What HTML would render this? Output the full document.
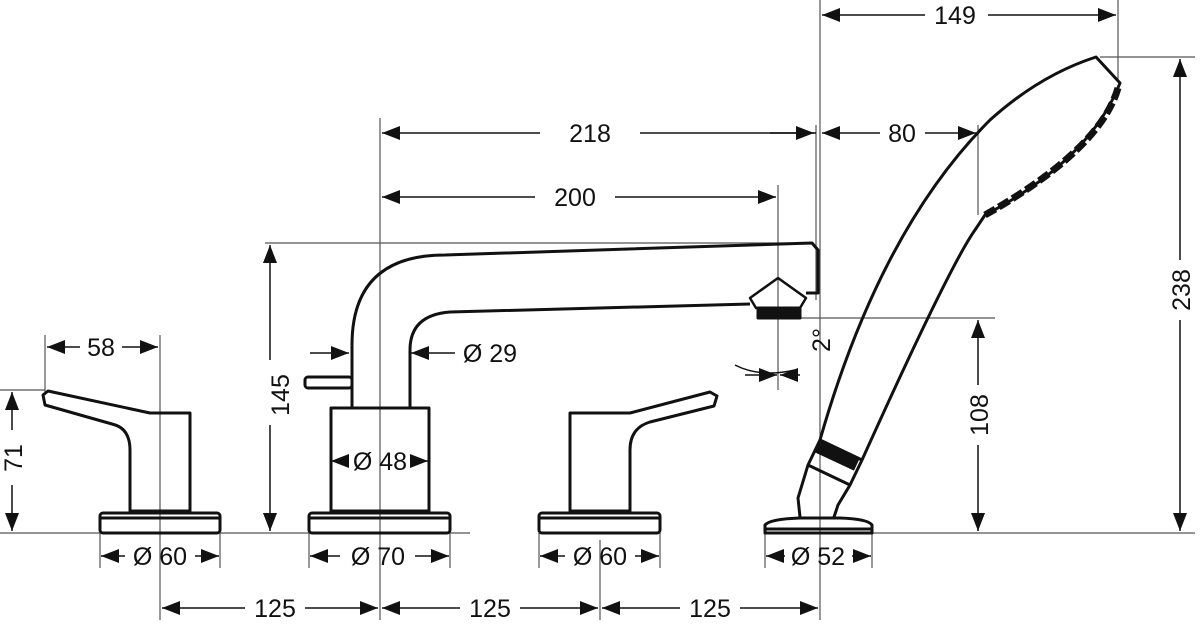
<!DOCTYPE html>
<html><head><meta charset="utf-8"><style>
html,body{margin:0;padding:0;background:#fff;}
svg{display:block;}
text{font-family:"Liberation Sans","DejaVu Sans",sans-serif;font-size:25px;fill:#111;}
</style></head><body>
<svg width="1200" height="628" viewBox="0 0 1200 628" xmlns="http://www.w3.org/2000/svg">
<defs>
<marker id="a" viewBox="0 0 18 14" refX="18" refY="7" markerWidth="18" markerHeight="14" markerUnits="userSpaceOnUse" orient="auto-start-reverse">
<path d="M0,0 L18,7 L0,14 Z" fill="#111"/>
</marker>
</defs>
<g stroke="#555" stroke-width="1.2" fill="none">
<line x1="820" y1="0" x2="820" y2="620"/>
<line x1="816" y1="125" x2="816" y2="300"/>
<line x1="1118" y1="0" x2="1118" y2="80"/>
<line x1="380" y1="118" x2="380" y2="620"/>
<line x1="778" y1="185" x2="778" y2="390"/>
<line x1="978" y1="125" x2="978" y2="215"/>
<line x1="160" y1="335" x2="160" y2="620"/>
<line x1="45" y1="335" x2="45" y2="395"/>
<line x1="600" y1="540" x2="600" y2="620"/>
<line x1="265" y1="243" x2="812" y2="243"/>
<line x1="780" y1="318" x2="995" y2="318"/>
<line x1="1100" y1="57" x2="1195" y2="57"/>
<line x1="0" y1="533" x2="100" y2="533"/>
<line x1="220" y1="533" x2="309" y2="533"/>
<line x1="450" y1="533" x2="470" y2="533"/>
<line x1="872" y1="533" x2="1195" y2="533"/>
<line x1="0" y1="390" x2="45" y2="390"/>
<line x1="100" y1="533" x2="100" y2="568"/><line x1="220" y1="533" x2="220" y2="568"/>
<line x1="309" y1="533" x2="309" y2="568"/><line x1="450" y1="533" x2="450" y2="568"/>
<line x1="539" y1="533" x2="539" y2="568"/><line x1="660" y1="533" x2="660" y2="568"/>
<line x1="765" y1="533" x2="765" y2="568"/><line x1="872" y1="533" x2="872" y2="568"/>
</g>
<g stroke="#111" stroke-width="1.5" fill="none">
<line x1="925" y1="15" x2="822" y2="15" marker-end="url(#a)"/><line x1="988" y1="15" x2="1116" y2="15" marker-end="url(#a)"/>
<line x1="540" y1="133" x2="382" y2="133" marker-end="url(#a)"/><line x1="640" y1="133" x2="814" y2="133" marker-end="url(#a)"/>
<line x1="880" y1="133" x2="822" y2="133" marker-end="url(#a)"/><line x1="925" y1="133" x2="976" y2="133" marker-end="url(#a)"/>
<line x1="770" y1="133" x2="816" y2="133"/>
<line x1="535" y1="197" x2="382" y2="197" marker-end="url(#a)"/><line x1="615" y1="197" x2="776" y2="197" marker-end="url(#a)"/>
<line x1="80" y1="347" x2="47" y2="347" marker-end="url(#a)"/><line x1="122" y1="347" x2="158" y2="347" marker-end="url(#a)"/>
<line x1="310" y1="353" x2="349" y2="353" marker-end="url(#a)"/><line x1="455" y1="353" x2="411" y2="353" marker-end="url(#a)"/>
<line x1="270" y1="360" x2="270" y2="245" marker-end="url(#a)"/><line x1="270" y1="425" x2="270" y2="531" marker-end="url(#a)"/>
<line x1="12" y1="430" x2="12" y2="392" marker-end="url(#a)"/><line x1="12" y1="485" x2="12" y2="531" marker-end="url(#a)"/>
<line x1="978" y1="385" x2="978" y2="320" marker-end="url(#a)"/><line x1="978" y1="445" x2="978" y2="531" marker-end="url(#a)"/>
<line x1="1180" y1="260" x2="1180" y2="59" marker-end="url(#a)"/><line x1="1180" y1="320" x2="1180" y2="531" marker-end="url(#a)"/>
<line x1="345" y1="461" x2="331" y2="461" marker-end="url(#a)"/><line x1="415" y1="461" x2="428" y2="461" marker-end="url(#a)"/>
<line x1="125" y1="556" x2="101" y2="556" marker-end="url(#a)"/><line x1="195" y1="556" x2="219" y2="556" marker-end="url(#a)"/>
<line x1="340" y1="556" x2="310" y2="556" marker-end="url(#a)"/><line x1="415" y1="556" x2="449" y2="556" marker-end="url(#a)"/>
<line x1="565" y1="556" x2="540" y2="556" marker-end="url(#a)"/><line x1="635" y1="556" x2="659" y2="556" marker-end="url(#a)"/>
<line x1="785" y1="556" x2="766" y2="556" marker-end="url(#a)"/><line x1="852" y1="556" x2="871" y2="556" marker-end="url(#a)"/>
<line x1="245" y1="608" x2="162" y2="608" marker-end="url(#a)"/><line x1="305" y1="608" x2="378" y2="608" marker-end="url(#a)"/>
<line x1="460" y1="608" x2="382" y2="608" marker-end="url(#a)"/><line x1="520" y1="608" x2="598" y2="608" marker-end="url(#a)"/>
<line x1="680" y1="608" x2="602" y2="608" marker-end="url(#a)"/><line x1="740" y1="608" x2="818" y2="608" marker-end="url(#a)"/>
<line x1="745" y1="375" x2="777" y2="375" marker-end="url(#a)"/><line x1="800" y1="375" x2="780" y2="375" marker-end="url(#a)"/>
<path d="M735 365 Q760 378 795 370"/>
</g>
<g stroke="#111" stroke-width="3" fill="none" stroke-linejoin="round">
<rect x="100" y="513" width="120" height="20" rx="3"/><line x1="100" y1="518" x2="220" y2="518"/>
<rect x="309" y="513" width="141" height="20" rx="3"/><line x1="309" y1="518" x2="450" y2="518"/>
<rect x="539" y="513" width="121" height="20" rx="3"/><line x1="539" y1="518" x2="660" y2="518"/>
<path d="M765 533 L765 525 Q770 519 800 518 L840 518 Q868 519 872 525 L872 533 Z"/><line x1="766" y1="529" x2="871" y2="529"/>
<path d="M130 511 L130 450 Q130 428 112 424 L45 405 L43 395 L48 391 L150 413 L190 413 L190 511 Z"/>
<path d="M570 511 L570 413 L630 413 L710 392 L717 396 L714 406 L650 422 Q630 428 630 450 L630 511 Z"/>
<rect x="331" y="408" width="98" height="103"/>
<path d="M352 408 L352 345 Q352 255 445 255 L812 243 L818 250 L818 293 L806 293"/>
<path d="M750 304 L450 312 Q410 315 410 350 L410 408"/>
<rect x="305" y="377" width="47" height="11" rx="3"/>
<path d="M750 298 L778 278 L806 298 L800 308 L756 308 Z" stroke-width="2.5"/>
<rect x="758" y="308" width="42" height="10" fill="#111"/>
<path d="M820 440 Q880 230 990 120 Q1040 75 1096 57 L1120 83 Q1090 160 985 215 L975 230 Q950 265 862 460"/>
<path d="M820 440 L862 460 L850 485 L808 465 Z"/>
<path d="M808 465 L798 498 L800 517 M850 485 L838 505 L834 517"/>
<path d="M1118 88 Q1100 150 985 215" stroke-width="7" stroke-dasharray="12 4"/>
</g>
<rect x="815" y="448" width="44" height="14" transform="rotate(25 837 455)" fill="#111"/>
<g text-anchor="middle">
<text x="955" y="24">149</text>
<text x="590" y="142">218</text>
<text x="902" y="142">80</text>
<text x="575" y="206">200</text>
<text x="101" y="356">58</text>
<text x="490" y="362">Ø 29</text>
<text x="380" y="470">Ø 48</text>
<text x="160" y="565">Ø 60</text>
<text x="378" y="565">Ø 70</text>
<text x="600" y="565">Ø 60</text>
<text x="818" y="565">Ø 52</text>
<text x="275" y="617">125</text>
<text x="490" y="617">125</text>
<text x="710" y="617">125</text>
<text transform="translate(289 395) rotate(-90)">145</text>
<text transform="translate(22 458) rotate(-90)">71</text>
<text transform="translate(988 415) rotate(-90)">108</text>
<text transform="translate(1190 290) rotate(-90)">238</text>
<text transform="translate(830 340) rotate(-90)">2°</text>
</g>
</svg>
</body></html>
